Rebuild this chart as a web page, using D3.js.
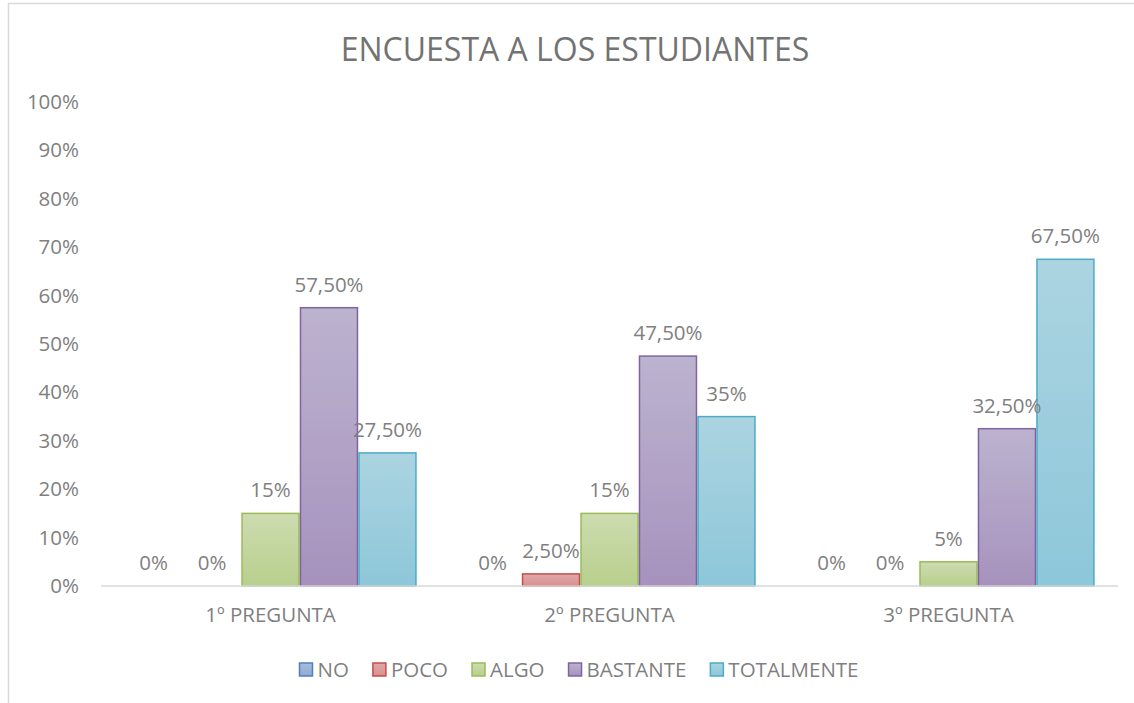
<!DOCTYPE html>
<html>
<head>
<meta charset="utf-8">
<script src="https://cdn.jsdelivr.net/npm/d3@7"></script>
<style>
  body { margin: 0; background: #fff; }
  text { font-family: "Open Sans", "Noto Sans", sans-serif; fill: #7f7f7f; }
</style>
</head>
<body>
<div id="chart"></div>
<script>
// chart data
var categories = ["1º PREGUNTA", "2º PREGUNTA", "3º PREGUNTA"];
var seriesNames = ["NO", "POCO", "ALGO", "BASTANTE", "TOTALMENTE"];
var noVals = [0, 0, 0];
var pocoVals = [0, 2.5, 0];
var algoVals = [15, 15, 5];
var bastanteVals = [57.5, 47.5, 32.5];
var totalmenteVals = [27.5, 35, 67.5];
var yTicks = [0, 10, 20, 30, 40, 50, 60, 70, 80, 90, 100];

var allSeries = [noVals, pocoVals, algoVals, bastanteVals, totalmenteVals];

// colours: border, gradient top, gradient bottom
var palette = [
  { stroke: "#4f81bd", top: "#a9bddb", bottom: "#8faad4" },
  { stroke: "#c0504d", top: "#e0a9a8", bottom: "#d98f8e" },
  { stroke: "#9bbb59", top: "#cddcb1", bottom: "#b8cf8c" },
  { stroke: "#8064a2", top: "#bcb3cf", bottom: "#a692bd" },
  { stroke: "#4bacc6", top: "#acd4e1", bottom: "#8dc7da" }
];

var svgWidth = 1134;
var svgHeight = 703;

var margin = { top: 102, right: 16, bottom: 117, left: 101 };
var width = svgWidth - margin.left - margin.right;
var height = svgHeight - margin.top - margin.bottom;

var svg = d3.select("#chart")
  .append("svg")
  .attr("width", svgWidth)
  .attr("height", svgHeight);

// chart frame
svg.append("rect")
  .attr("x", 8.5)
  .attr("y", 3.5)
  .attr("width", 1140)
  .attr("height", 710)
  .attr("fill", "none")
  .attr("stroke", "#d9d9d9")
  .attr("stroke-width", 1.5);

var defs = svg.append("defs");
palette.forEach(function(p, i) {
  var g = defs.append("linearGradient")
    .attr("id", "grad" + i)
    .attr("x1", 0).attr("y1", 0).attr("x2", 0).attr("y2", 1);
  g.append("stop").attr("offset", "0%").attr("stop-color", p.top);
  g.append("stop").attr("offset", "100%").attr("stop-color", p.bottom);
});

// title
svg.append("text")
  .attr("x", 575)
  .attr("y", 61)
  .attr("text-anchor", "middle")
  .style("font-size", "32px")
  .style("fill", "#737373")
  .text("ENCUESTA A LOS ESTUDIANTES");

var chartGroup = svg.append("g")
  .attr("transform", `translate(${margin.left}, ${margin.top})`);

var x0 = d3.scaleBand()
  .domain(categories)
  .range([0, width])
  .paddingInner(0.1375)
  .paddingOuter(0.0688);

var x1 = d3.scaleBand()
  .domain(seriesNames)
  .range([0, x0.bandwidth()]);

var y = d3.scaleLinear()
  .domain([0, 100])
  .range([height, 0]);

// y axis labels
var leftAxis = d3.axisLeft(y)
  .tickValues(yTicks)
  .tickSize(0)
  .tickPadding(22)
  .tickFormat(d => d + "%");

var yAxisG = chartGroup.append("g").call(leftAxis);
yAxisG.select(".domain").remove();
yAxisG.selectAll("text").style("font-size", "20.5px").style("fill", "#7f7f7f").attr("font-family", null);

// x axis
var bottomAxis = d3.axisBottom(x0).tickSize(0).tickPadding(21);
var xAxisG = chartGroup.append("g")
  .attr("transform", `translate(0, ${height})`)
  .call(bottomAxis);
xAxisG.select(".domain").remove();
xAxisG.selectAll("text").style("font-size", "20.5px").style("fill", "#7f7f7f").attr("font-family", null);

// groups of bars
var groups = chartGroup.selectAll(".cat")
  .data(categories)
  .enter()
  .append("g")
  .attr("class", "cat")
  .attr("transform", d => `translate(${x0(d)}, 0)`);

groups.each(function(cat, ci) {
  var g = d3.select(this);
  var rows = seriesNames.map(function(s, si) {
    return { name: s, idx: si, value: allSeries[si][ci] };
  });

  g.selectAll("rect")
    .data(rows.filter(d => d.value > 0))
    .enter()
    .append("rect")
    .attr("x", d => x1(d.name) + 0.75)
    .attr("y", d => y(d.value))
    .attr("width", x1.bandwidth() - 1.5)
    .attr("height", d => height - y(d.value))
    .attr("fill", d => `url(#grad${d.idx})`)
    .attr("stroke", d => palette[d.idx].stroke)
    .attr("stroke-width", 1.5);

  g.selectAll("text.lbl")
    .data(rows)
    .enter()
    .append("text")
    .attr("class", "lbl")
    .attr("x", d => x1(d.name) + x1.bandwidth() / 2)
    .attr("y", d => y(d.value) - 16)
    .attr("text-anchor", "middle")
    .style("font-size", "20.5px")
    .text(d => (d.value % 1 === 0 ? d.value : d.value.toFixed(2).replace(".", ",")) + "%");
});

// baseline
chartGroup.append("line")
  .attr("x1", 0)
  .attr("x2", width)
  .attr("y1", height)
  .attr("y2", height)
  .attr("stroke", "#d9d9d9")
  .attr("stroke-width", 1.5);

// legend, laid out from the text widths
var legend = svg.append("g").attr("class", "legend");
var items = legend.selectAll("g")
  .data(seriesNames)
  .enter()
  .append("g");

items.append("rect")
  .attr("y", 663)
  .attr("width", 13)
  .attr("height", 13)
  .attr("fill", (d, i) => `url(#grad${i})`)
  .attr("stroke", (d, i) => palette[i].stroke)
  .attr("stroke-width", 1.5);

items.append("text")
  .attr("x", 18)
  .attr("y", 677)
  .style("font-size", "20.5px")
  .text(d => d);

var pos = 0;
var offsets = [];
items.each(function() {
  var w = 18 + d3.select(this).select("text").node().getComputedTextLength();
  offsets.push(pos);
  pos += w + 24;
});
var total = pos - 24;
var startX = 579 - total / 2;
items.attr("transform", (d, i) => `translate(${startX + offsets[i]}, 0)`);
</script>
</body>
</html>
